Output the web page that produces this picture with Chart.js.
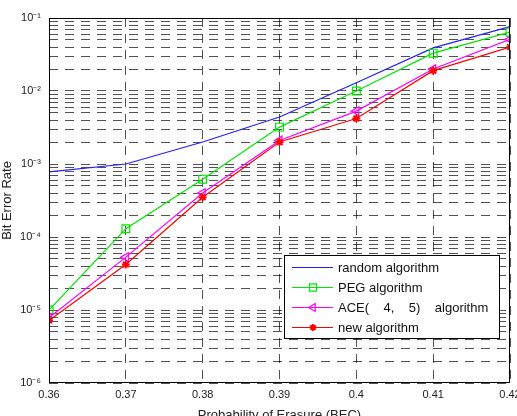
<!DOCTYPE html>
<html>
<head>
<meta charset="utf-8">
<script src="https://cdn.jsdelivr.net/npm/chart.js@4/dist/chart.umd.min.js"></script>
<style>
  html, body { margin: 0; padding: 0; background: #fff; }
  #wrap { width: 517px; height: 416px; }
</style>
</head>
<body>
<div id="wrap"><canvas id="berChart" width="517" height="416"></canvas></div>
<script>
// erasure probability (x) and BER per algorithm
const erasureProb = [0.36, 0.37, 0.38, 0.39, 0.40, 0.41, 0.42];
const randomBer = [7.8e-4, 1.0e-3, 2.0e-3, 4.4e-3, 1.3e-2, 3.9e-2, 7.6e-2];
const pegBer    = [1.0e-5, 1.3e-4, 6.2e-4, 3.2e-3, 1.0e-2, 3.3e-2, 6.4e-2];
const aceBer    = [7.8e-6, 5.3e-5, 4.0e-4, 2.1e-3, 5.3e-3, 2.0e-2, 5.1e-2];
const newBer    = [7.2e-6, 4.2e-5, 3.5e-4, 2.0e-3, 4.2e-3, 1.9e-2, 4.0e-2];
const seriesLabels = ['random algorithm', 'PEG algorithm', 'ACE(    4,    5)    algorithm', 'new algorithm'];
const seriesColors = ['#2020ff', '#00e600', '#ff00ff', '#ff0000'];
const decades = [-6, -5, -4, -3, -2, -1];
const supers = { '-': '\u207B', '1': '\u00B9', '2': '\u00B2', '3': '\u00B3', '4': '\u2074', '5': '\u2075', '6': '\u2076' };

const FONT = '"Liberation Sans", Arial, sans-serif';
const gridColor = 'rgba(0,0,0,0.68)';

function toPoints(ys) {
    return erasureProb.map((x, i) => ({ x: x, y: ys[i] }));
}

// y ticks: 1..9 in every decade, so every minor line is dashed too
function logTicks() {
    const out = [];
    for (let i = 0; i < decades.length - 1; i++) {
        for (let k = 1; k <= 9; k++) out.push({ value: k * Math.pow(10, decades[i]) });
    }
    out.push({ value: Math.pow(10, decades[decades.length - 1]) });
    return out;
}

function powLabel(v) {
    const e = Math.round(Math.log10(v));
    if (Math.abs(Math.log10(v) - e) > 1e-9) return '';
    return '10' + String(e).split('').map(c => supers[c]).join('');
}

// full black frame around the plot
const frameBox = {
    id: 'frameBox',
    afterDraw(chart) {
        const a = chart.chartArea, ctx = chart.ctx;
        ctx.save();
        ctx.strokeStyle = '#000';
        ctx.lineWidth = 1;
        ctx.strokeRect(Math.round(a.left) + 0.5, Math.round(a.top) + 0.5,
            Math.round(a.right - a.left) - 1, Math.round(a.bottom - a.top) - 1);
        ctx.restore();
    }
};

// legend box in the lower right of the plot
const boxLegend = {
    id: 'boxLegend',
    afterDatasetsDraw(chart) {
        const ctx = chart.ctx;
        const x0 = 284, y0 = 255, w = 215, h = 83;
        ctx.save();
        ctx.setLineDash([]);
        ctx.fillStyle = '#fff';
        ctx.fillRect(x0, y0, w, h);
        ctx.strokeStyle = '#000';
        ctx.lineWidth = 1;
        ctx.strokeRect(x0 + 0.5, y0 + 0.5, w, h);
        chart.data.datasets.forEach((ds, i) => {
            const y = y0 + 12.5 + i * 20;
            ctx.strokeStyle = seriesColors[i];
            ctx.lineWidth = 1.2;
            ctx.beginPath();
            ctx.moveTo(x0 + 8, y);
            ctx.lineTo(x0 + 49, y);
            ctx.stroke();
            if (ds.pointRadius > 0 && Chart.helpers && Chart.helpers.drawPoint) {
                ctx.fillStyle = ds.pointBackgroundColor;
                ctx.strokeStyle = seriesColors[i];
                ctx.lineWidth = ds.pointBorderWidth;
                Chart.helpers.drawPoint(ctx, {
                    pointStyle: ds.pointStyle,
                    radius: ds.pointRadius - 0.5,
                    rotation: ds.pointRotation || 0,
                    borderWidth: ds.pointBorderWidth
                }, x0 + 29, y);
            }
            ctx.fillStyle = '#111';
            ctx.font = '13px ' + FONT;
            ctx.textBaseline = 'middle';
            ctx.textAlign = 'left';
            ctx.fillText(ds.label, x0 + 54, y + 0.5);
        });
        ctx.restore();
    }
};

const ctx = document.getElementById('berChart').getContext('2d');
const berChart = new Chart(ctx, {
    type: 'line',
    data: {
        datasets: [{
            label: seriesLabels[0],
            data: toPoints(randomBer),
            borderColor: seriesColors[0],
            borderWidth: 1.2,
            pointRadius: 0,
            order: 4
        }, {
            label: seriesLabels[1],
            data: toPoints(pegBer),
            borderColor: seriesColors[1],
            borderWidth: 1.2,
            pointStyle: 'rect',
            pointRadius: 5.5,
            pointBorderWidth: 1.2,
            pointBackgroundColor: 'rgba(0,0,0,0)',
            order: 3
        }, {
            label: seriesLabels[2],
            data: toPoints(aceBer),
            borderColor: seriesColors[2],
            borderWidth: 1.2,
            pointStyle: 'triangle',
            pointRotation: -90,
            pointRadius: 5,
            pointBorderWidth: 1.2,
            pointBackgroundColor: 'rgba(0,0,0,0)',
            order: 2
        }, {
            label: seriesLabels[3],
            data: toPoints(newBer),
            borderColor: seriesColors[3],
            borderWidth: 1.2,
            pointStyle: 'star',
            pointRadius: 4,
            pointBorderWidth: 1.8,
            pointBackgroundColor: seriesColors[3],
            order: 1
        }]
    },
    options: {
        responsive: false,
        animation: false,
        events: [],
        layout: { padding: { top: 18, right: 7, left: 0, bottom: 0 } },
        plugins: {
            legend: { display: false },
            tooltip: { enabled: false }
        },
        scales: {
            x: {
                type: 'linear',
                min: 0.36,
                max: 0.42,
                ticks: {
                    stepSize: 0.01,
                    color: '#222',
                    font: { family: FONT, size: 11 },
                    padding: 5,
                    maxRotation: 0,
                    autoSkip: false,
                    callback: v => String(Math.round(v * 100) / 100)
                },
                grid: { color: gridColor, lineWidth: 1, drawTicks: false },
                border: { display: false, dash: [9, 7] },
                title: {
                    display: true,
                    text: 'Probability of Erasure (BEC)',
                    color: '#222',
                    font: { family: FONT, size: 13 },
                    padding: { top: 0, bottom: -7 }
                },
                afterFit: s => { s.height = 33; s.paddingLeft = 0; s.paddingRight = 0; }
            },
            y: {
                type: 'logarithmic',
                min: 1e-6,
                max: 1e-1,
                afterBuildTicks: s => { s.ticks = logTicks(); },
                ticks: {
                    color: '#222',
                    font: { family: FONT, size: 11 },
                    padding: 8,
                    autoSkip: false,
                    callback: v => powLabel(v)
                },
                grid: { color: gridColor, lineWidth: 1, drawTicks: false },
                border: { display: false, dash: [9, 7] },
                title: {
                    display: true,
                    text: 'Bit Error Rate',
                    color: '#222',
                    font: { family: FONT, size: 13 },
                    padding: { top: 0, bottom: 0 }
                },
                afterFit: s => { s.width = 49; s.paddingTop = 0; s.paddingBottom = 0; }
            }
        }
    },
    plugins: [frameBox, boxLegend]
});
</script>
</body>
</html>
